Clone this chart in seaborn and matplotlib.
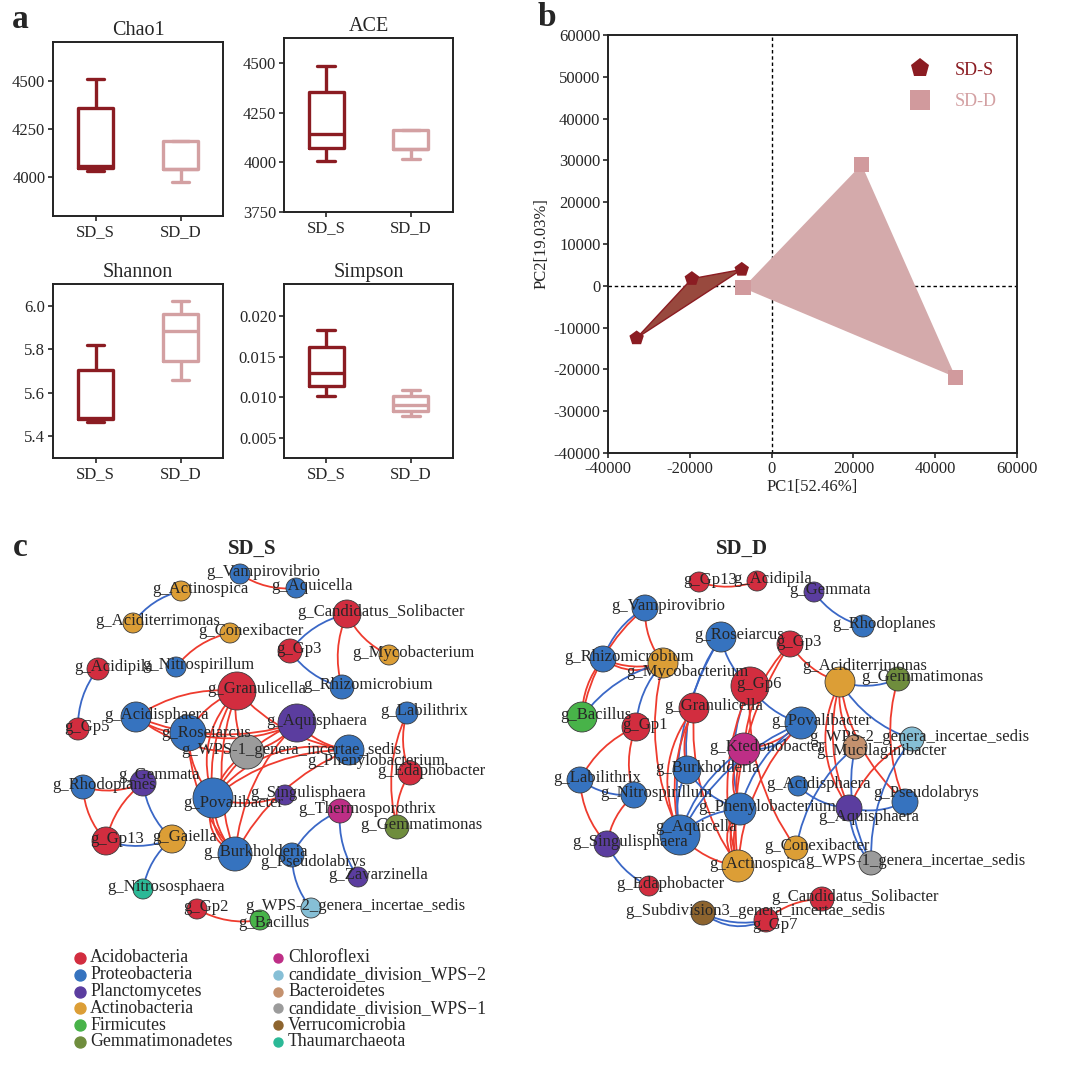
import numpy as np
import pandas as pd
import matplotlib
matplotlib.use('Agg')
import matplotlib.pyplot as plt
import seaborn as sns
from matplotlib.patches import FancyArrowPatch
from matplotlib.ticker import FormatStrFormatter

sns.set_style('ticks')
plt.rcParams['font.family'] = ['Liberation Serif', 'DejaVu Serif']
plt.rcParams['axes.linewidth'] = 1.4
plt.rcParams['axes.edgecolor'] = '#222222'
plt.rcParams['axes.unicode_minus'] = False

W, H = 1080, 1065
dark = '#8B1C22'
pink = '#D3A0A2'

# ---- panel a : five-number summaries (low, q1, median, q3, high)
groups = ['SD_S', 'SD_D']
chao1_sds = [4035, 4050, 4058, 4360, 4510]
chao1_sdd = [3975, 4045, 4045, 4186, 4186]
ace_sds = [4008, 4070, 4140, 4353, 4483]
ace_sdd = [4015, 4065, 4065, 4162, 4162]
shannon_sds = [5.466, 5.480, 5.486, 5.706, 5.819]
shannon_sdd = [5.657, 5.744, 5.882, 5.960, 6.020]
simpson_sds = [0.0102, 0.01143, 0.0130, 0.0162, 0.01835]
simpson_sdd = [0.0077, 0.0083, 0.0091, 0.01014, 0.0109]

# ---- panel b : PCA scores
pc1_sds = [-33000, -19500, -7300]
pc2_sds = [-12500, 1700, 3900]
pc1_sdd = [-7000, 22000, 45000]
pc2_sdd = [-500, 29000, -21900]

# ---- panel c : networks
phyla = ['Acidobacteria', 'Proteobacteria', 'Planctomycetes', 'Actinobacteria',
         'Firmicutes', 'Gemmatimonadetes', 'Chloroflexi', 'candidate_division_WPS-2',
         'Bacteroidetes', 'candidate_division_WPS-1', 'Verrucomicrobia', 'Thaumarchaeota']
phylum_colors = ['#D22D3F', '#3673BF', '#5B3D9F', '#DC9E36', '#48B349', '#6F8D3D',
                 '#BE2E86', '#86BFD6', '#C4916E', '#9B9B9B', '#8D642E', '#2BB997']

left_names = ['Vampirovibrio', 'Aquicella', 'Actinospica', 'Aciditerrimonas', 'Conexibacter',
              'Candidatus_Solibacter', 'Gp3', 'Mycobacterium', 'Acidipila', 'Nitrospirillum',
              'Rhizomicrobium', 'Granulicella', 'Acidisphaera', 'Gp5', 'Aquisphaera',
              'Labilithrix', 'Roseiarcus', 'WPS-1_genera_incertae_sedis', 'Phenylobacterium',
              'Edaphobacter', 'Rhodoplanes', 'Gemmata', 'Povalibacter', 'Singulisphaera',
              'Thermosporothrix', 'Gemmatimonas', 'Gp13', 'Gaiella', 'Burkholderia',
              'Pseudolabrys', 'Zavarzinella', 'Nitrososphaera', 'Gp2',
              'WPS-2_genera_incertae_sedis', 'Bacillus']
left_x = [240, 296, 181, 133, 230, 347, 290, 389, 98, 176, 342, 237, 136, 78, 297, 407, 188,
          247, 349, 410, 83, 143, 213, 285, 340, 397, 106, 172, 235, 292, 358, 143, 197, 311, 260]
left_y = [574, 588, 591, 623, 633, 614, 651, 655, 669, 667, 687, 691, 717, 729, 723, 713, 733,
          752, 750, 773, 787, 783, 798, 795, 811, 827, 841, 839, 854, 855, 877, 889, 909, 908, 920]
left_r = [10, 10, 10, 10, 10, 14, 12, 10, 11, 10, 12, 19, 15, 11, 19, 11, 18,
          17, 15, 12, 12, 13, 20, 10, 12, 12, 14, 14, 17, 12, 10, 10, 10, 10, 10]
left_phylum = ['Proteobacteria', 'Proteobacteria', 'Actinobacteria', 'Actinobacteria',
               'Actinobacteria', 'Acidobacteria', 'Acidobacteria', 'Actinobacteria',
               'Acidobacteria', 'Proteobacteria', 'Proteobacteria', 'Acidobacteria',
               'Proteobacteria', 'Acidobacteria', 'Planctomycetes', 'Proteobacteria',
               'Proteobacteria', 'candidate_division_WPS-1', 'Proteobacteria', 'Acidobacteria',
               'Proteobacteria', 'Planctomycetes', 'Proteobacteria', 'Planctomycetes',
               'Chloroflexi', 'Gemmatimonadetes', 'Acidobacteria', 'Actinobacteria',
               'Proteobacteria', 'Proteobacteria', 'Planctomycetes', 'Thaumarchaeota',
               'Acidobacteria', 'candidate_division_WPS-2', 'Firmicutes']
left_edges = [
    ('Vampirovibrio', 'Aquicella', '+'), ('Actinospica', 'Aciditerrimonas', '-'),
    ('Conexibacter', 'Nitrospirillum', '+'), ('Candidatus_Solibacter', 'Gp3', '-'),
    ('Candidatus_Solibacter', 'Mycobacterium', '+'), ('Candidatus_Solibacter', 'Rhizomicrobium', '+'),
    ('Gp3', 'Rhizomicrobium', '-'), ('Acidipila', 'Gp5', '-'),
    ('Granulicella', 'Acidisphaera', '+'), ('Granulicella', 'Roseiarcus', '+'),
    ('Granulicella', 'WPS-1_genera_incertae_sedis', '+'), ('Granulicella', 'Povalibacter', '+'),
    ('Granulicella', 'Povalibacter', '+'), ('Granulicella', 'Burkholderia', '+'),
    ('Granulicella', 'Phenylobacterium', '+'), ('Acidisphaera', 'Roseiarcus', '+'),
    ('Acidisphaera', 'WPS-1_genera_incertae_sedis', '+'), ('Acidisphaera', 'Aquisphaera', '+'),
    ('Roseiarcus', 'Povalibacter', '+'), ('Roseiarcus', 'Burkholderia', '+'),
    ('Roseiarcus', 'Aquisphaera', '+'), ('WPS-1_genera_incertae_sedis', 'Aquisphaera', '+'),
    ('WPS-1_genera_incertae_sedis', 'Povalibacter', '+'), ('Aquisphaera', 'Povalibacter', '+'),
    ('Aquisphaera', 'Phenylobacterium', '+'), ('Aquisphaera', 'Burkholderia', '+'),
    ('Phenylobacterium', 'Povalibacter', '+'), ('Phenylobacterium', 'Povalibacter', '+'),
    ('Phenylobacterium', 'Burkholderia', '+'), ('Povalibacter', 'Burkholderia', '+'),
    ('Povalibacter', 'Burkholderia', '+'), ('Povalibacter', 'Burkholderia', '+'),
    ('Povalibacter', 'Singulisphaera', '+'), ('Labilithrix', 'Edaphobacter', '+'),
    ('Labilithrix', 'Gemmatimonas', '+'), ('Edaphobacter', 'Gemmatimonas', '+'),
    ('Rhodoplanes', 'Gemmata', '+'), ('Rhodoplanes', 'Gp13', '+'), ('Gemmata', 'Gp13', '+'),
    ('Gemmata', 'Gaiella', '-'), ('Gp13', 'Gaiella', '-'), ('Gaiella', 'Nitrososphaera', '-'),
    ('Thermosporothrix', 'Pseudolabrys', '-'), ('Thermosporothrix', 'Zavarzinella', '-'),
    ('Pseudolabrys', 'WPS-2_genera_incertae_sedis', '-'), ('Gp2', 'Bacillus', '+'),
]
left_label_dy = {'Phenylobacterium': 13, 'Gemmata': -6, 'Povalibacter': 7,
                 'Pseudolabrys': 9, 'Roseiarcus': 2, 'Bacillus': 5}
left_label_dx = {}

right_names = ['Gp13', 'Acidipila', 'Gemmata', 'Vampirovibrio', 'Rhodoplanes', 'Roseiarcus',
               'Gp3', 'Rhizomicrobium', 'Mycobacterium', 'Aciditerrimonas', 'Gemmatimonas',
               'Gp6', 'Granulicella', 'Bacillus', 'Gp1', 'Povalibacter',
               'WPS-2_genera_incertae_sedis', 'Ktedonobacter', 'Mucilaginibacter',
               'Burkholderia', 'Labilithrix', 'Acidisphaera', 'Nitrospirillum', 'Pseudolabrys',
               'Phenylobacterium', 'Aquisphaera', 'Aquicella', 'Singulisphaera', 'Conexibacter',
               'Actinospica', 'WPS-1_genera_incertae_sedis', 'Edaphobacter',
               'Candidatus_Solibacter', 'Subdivision3_genera_incertae_sedis', 'Gp7']
right_x = [699, 757, 814, 645, 863, 721, 790, 603, 663, 840, 898, 750, 694, 582, 636, 801, 912,
           744, 855, 687, 580, 798, 634, 905, 740, 849, 680, 607, 796, 738, 871, 649, 822, 703, 766]
right_y = [582, 581, 592, 608, 626, 637, 644, 659, 663, 682, 679, 686, 708, 717, 727, 723, 739,
           749, 747, 770, 780, 786, 795, 802, 809, 808, 835, 844, 848, 866, 863, 886, 899, 913, 920]
right_r = [10, 10, 10, 13, 11, 15, 13, 13, 15, 15, 12, 19, 15, 15, 14, 16, 12,
           16, 12, 14, 13, 10, 13, 13, 16, 13, 20, 13, 12, 16, 12, 10, 12, 12, 12]
right_phylum = ['Acidobacteria', 'Acidobacteria', 'Planctomycetes', 'Proteobacteria',
                'Proteobacteria', 'Proteobacteria', 'Acidobacteria', 'Proteobacteria',
                'Actinobacteria', 'Actinobacteria', 'Gemmatimonadetes', 'Acidobacteria',
                'Acidobacteria', 'Firmicutes', 'Acidobacteria', 'Proteobacteria',
                'candidate_division_WPS-2', 'Chloroflexi', 'Bacteroidetes', 'Proteobacteria',
                'Proteobacteria', 'Proteobacteria', 'Proteobacteria', 'Proteobacteria',
                'Proteobacteria', 'Planctomycetes', 'Proteobacteria', 'Planctomycetes',
                'Actinobacteria', 'Actinobacteria', 'candidate_division_WPS-1', 'Acidobacteria',
                'Acidobacteria', 'Verrucomicrobia', 'Acidobacteria']
right_edges = [
    ('Gp13', 'Acidipila', '+'), ('Gemmata', 'Rhodoplanes', '-'),
    ('Vampirovibrio', 'Rhizomicrobium', '-'), ('Vampirovibrio', 'Mycobacterium', '+'),
    ('Vampirovibrio', 'Bacillus', '+'), ('Rhizomicrobium', 'Mycobacterium', '+'),
    ('Rhizomicrobium', 'Mycobacterium', '+'), ('Rhizomicrobium', 'Bacillus', '+'),
    ('Mycobacterium', 'Bacillus', '-'), ('Mycobacterium', 'Gp1', '-'),
    ('Gp1', 'Labilithrix', '+'), ('Gp1', 'Nitrospirillum', '+'),
    ('Labilithrix', 'Nitrospirillum', '-'), ('Labilithrix', 'Singulisphaera', '+'),
    ('Nitrospirillum', 'Singulisphaera', '+'), ('Singulisphaera', 'Edaphobacter', '-'),
    ('Roseiarcus', 'Aquicella', '-'), ('Roseiarcus', 'Burkholderia', '-'),
    ('Roseiarcus', 'Gp6', '-'), ('Gp3', 'Actinospica', '+'), ('Gp3', 'Ktedonobacter', '+'),
    ('Gp3', 'Aciditerrimonas', '+'), ('Gp6', 'Povalibacter', '-'),
    ('Gp6', 'Phenylobacterium', '-'), ('Gp6', 'Actinospica', '+'), ('Gp6', 'Conexibacter', '+'),
    ('Granulicella', 'Aquicella', '+'), ('Granulicella', 'Aquicella', '+'),
    ('Granulicella', 'Burkholderia', '+'), ('Granulicella', 'Actinospica', '+'),
    ('Mycobacterium', 'Aquicella', '+'), ('Ktedonobacter', 'Povalibacter', '+'),
    ('Ktedonobacter', 'Povalibacter', '-'), ('Ktedonobacter', 'Phenylobacterium', '+'),
    ('Ktedonobacter', 'Phenylobacterium', '+'), ('Ktedonobacter', 'Aquicella', '-'),
    ('Povalibacter', 'Phenylobacterium', '-'), ('Povalibacter', 'Aquicella', '-'),
    ('Povalibacter', 'Actinospica', '+'), ('Burkholderia', 'Phenylobacterium', '-'),
    ('Burkholderia', 'Aquicella', '-'), ('Phenylobacterium', 'Aquicella', '-'),
    ('Phenylobacterium', 'Actinospica', '+'), ('Phenylobacterium', 'Actinospica', '+'),
    ('Phenylobacterium', 'Actinospica', '+'), ('Aquicella', 'Actinospica', '+'),
    ('Aciditerrimonas', 'Gemmatimonas', '-'), ('Aciditerrimonas', 'WPS-2_genera_incertae_sedis', '-'),
    ('Aciditerrimonas', 'Mucilaginibacter', '+'), ('Aciditerrimonas', 'Aquisphaera', '+'),
    ('Aciditerrimonas', 'Aquisphaera', '+'), ('Aciditerrimonas', 'Pseudolabrys', '+'),
    ('Gemmatimonas', 'Pseudolabrys', '+'), ('WPS-2_genera_incertae_sedis', 'Aquisphaera', '+'),
    ('Mucilaginibacter', 'Conexibacter', '-'), ('Mucilaginibacter', 'WPS-1_genera_incertae_sedis', '-'),
    ('Acidisphaera', 'Aquisphaera', '-'), ('Aquisphaera', 'Pseudolabrys', '-'),
    ('Aquisphaera', 'WPS-1_genera_incertae_sedis', '-'),
    ('WPS-2_genera_incertae_sedis', 'WPS-1_genera_incertae_sedis', '-'),
    ('Subdivision3_genera_incertae_sedis', 'Gp7', '-'), ('Subdivision3_genera_incertae_sedis', 'Gp7', '-'),
    ('Candidatus_Solibacter', 'Gp7', '+'),
]
right_label_dy = {'Mycobacterium': 11, 'Aciditerrimonas': -14, 'Mucilaginibacter': 6,
                  'Pseudolabrys': -7, 'Aquisphaera': 11, 'Aquicella': -6, 'Gp7': 7}
right_label_dx = {'WPS-2_genera_incertae_sedis': -37}


def px_axes(left, top, right, bottom):
    return fig.add_axes([left / W, 1 - bottom / H, (right - left) / W, (bottom - top) / H])


fig = plt.figure(figsize=(W / 100, H / 100), dpi=100)

# ---------------- panel a
box_specs = [
    ((53, 42, 223, 216), 'Chao1', chao1_sds, chao1_sdd, (3800, 4700), [4000, 4250, 4500], '%d'),
    ((284, 38, 453, 212), 'ACE', ace_sds, ace_sdd, (3750, 4625), [3750, 4000, 4250, 4500], '%d'),
    ((53, 284, 223, 458), 'Shannon', shannon_sds, shannon_sdd, (5.3, 6.1), [5.4, 5.6, 5.8, 6.0], '%.1f'),
    ((284, 284, 453, 458), 'Simpson', simpson_sds, simpson_sdd, (0.0025, 0.024),
     [0.005, 0.010, 0.015, 0.020], '%.3f'),
]
for rect, title, sds, sdd, ylim, ticks, fmt in box_specs:
    ax = px_axes(*rect)
    df = pd.DataFrame({'group': [groups[0]] * len(sds) + [groups[1]] * len(sdd),
                       'value': sds + sdd})
    sns.boxplot(data=df, x='group', y='value', hue='group', palette=[dark, pink],
                fill=False, width=0.42, linewidth=2.4, whis=10, legend=False, ax=ax)
    ax.set_xlim(-0.5, 1.5)
    ax.set_ylim(*ylim)
    ax.set_yticks(ticks)
    ax.yaxis.set_major_formatter(FormatStrFormatter(fmt))
    ax.set_xlabel('')
    ax.set_ylabel('')
    ax.set_title(title, fontsize=14.5, pad=5)
    ax.tick_params(labelsize=12, length=3.5, width=1.2, pad=2)

# ---------------- panel b
axb = px_axes(608, 35, 1017, 453)
pca_df = pd.DataFrame({'PC1': pc1_sds + pc1_sdd, 'PC2': pc2_sds + pc2_sdd,
                       'group': ['SD-S'] * len(pc1_sds) + ['SD-D'] * len(pc1_sdd)})
axb.axhline(0, color='black', lw=1.0, ls=(0, (2.5, 2)), zorder=0)
axb.axvline(0, color='black', lw=1.0, ls=(0, (2.5, 2)), zorder=0)
axb.fill(pc1_sdd, pc2_sdd, color='#D4AAAB', lw=0, zorder=1)
axb.fill(pc1_sds, pc2_sds, facecolor='#98493E', edgecolor=dark, lw=1, zorder=2)
sns.scatterplot(data=pca_df, x='PC1', y='PC2', hue='group', style='group',
                markers={'SD-S': 'p', 'SD-D': 's'}, palette={'SD-S': dark, 'SD-D': '#D19A9D'},
                s=120, linewidth=0, ax=axb, zorder=3)
axb.set_xlim(-40000, 60000)
axb.set_ylim(-40000, 60000)
axb.set_xticks(range(-40000, 60001, 20000))
axb.set_yticks(range(-40000, 60001, 10000))
axb.set_xlabel('PC1[52.46%]', fontsize=12, labelpad=2)
axb.set_ylabel('PC2[19.03%]', fontsize=12, labelpad=3)
axb.tick_params(labelsize=12, length=3.5, width=1.2, pad=2)
sns.move_legend(axb, 'upper right', bbox_to_anchor=(0.99, 0.975), frameon=False, title=None,
                fontsize=13, labelspacing=0.8, handletextpad=0.9, markerscale=1.3)
for txt, col in zip(axb.get_legend().get_texts(), [dark, pink]):
    txt.set_color(col)

# ---------------- panel c
axn = fig.add_axes([0, 0, 1, (H - 540) / H])
axn.set_xlim(0, W)
axn.set_ylim(H, 540)
axn.axis('off')
color_of = dict(zip(phyla, phylum_colors))
renderer = fig.canvas.get_renderer()


def draw_network(names, xs, ys, rs, phs, edges, ldy, ldx):
    nodes = pd.DataFrame({'name': names, 'x': xs, 'y': ys, 'r': rs, 'phylum': phs})
    pos = dict(zip(names, zip(xs, ys)))
    seen = {}
    for a, b, sign in edges:
        k = seen.get((a, b), 0)
        seen[(a, b)] = k + 1
        patch = FancyArrowPatch(pos[a], pos[b], arrowstyle='-', shrinkA=0, shrinkB=0,
                                connectionstyle='arc3,rad=%.2f' % (0.18 + 0.12 * k),
                                color='#EE3B2E' if sign == '+' else '#3A67C6', lw=1.3, zorder=2)
        axn.add_patch(patch)
    sizes = (2 * nodes['r'] * 72 / 100) ** 2
    sns.scatterplot(data=nodes, x='x', y='y', hue='phylum', palette=color_of, s=sizes,
                    edgecolor='#3a3a3a', linewidth=0.6, legend=False, ax=axn, zorder=3)
    for n, x, y in zip(names, xs, ys):
        t = axn.text(x, y - 2 + ldy.get(n, 0), 'g_' + n, fontsize=12, ha='left', va='center',
                     zorder=4)
        w = t.get_window_extent(renderer).width
        t.set_x(x - 0.3 * w + ldx.get(n, 0))


draw_network(left_names, left_x, left_y, left_r, left_phylum, left_edges, left_label_dy, left_label_dx)
draw_network(right_names, right_x, right_y, right_r, right_phylum, right_edges,
             right_label_dy, right_label_dx)
axn.set_xlim(0, W)
axn.set_ylim(H, 540)
axn.set_xlabel('')
axn.set_ylabel('')
axn.text(252, 549, 'SD_S', fontsize=15, fontweight='bold', ha='center', va='center')
axn.text(742, 549, 'SD_D', fontsize=15, fontweight='bold', ha='center', va='center')

# phylum legend, two columns of six
for i, (ph, col) in enumerate(zip(phyla, phylum_colors)):
    colx = 80 if i < 6 else 278
    row = i % 6
    yy = 958 + row * 16.8
    axn.scatter([colx], [yy], s=(2 * (5.5 if i < 6 else 4.5) * 0.72) ** 2, color=col, zorder=3)
    axn.text(colx + 10, yy, ph.replace('-', '\u2212'), fontsize=12.8, ha='left', va='center')

# panel letters
for letter, x, y in [('a', 20, 20), ('b', 547, 18), ('c', 20, 547)]:
    fig.text(x / W, 1 - y / H, letter, fontsize=24, fontweight='bold', ha='center', va='center')

fig.savefig('out.png', dpi=100)
